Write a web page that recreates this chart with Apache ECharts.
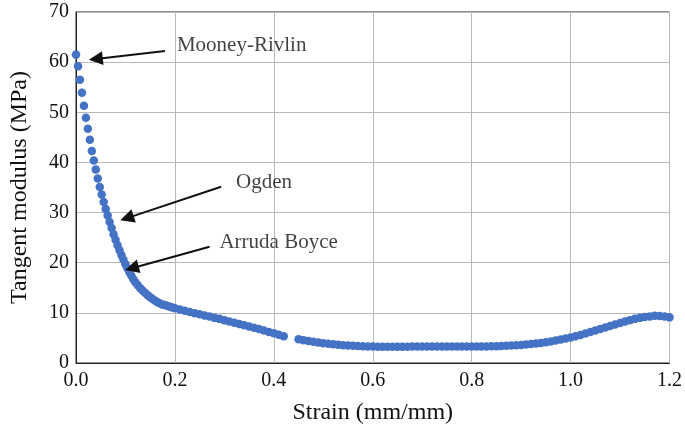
<!DOCTYPE html>
<html lang="en">
    <head>
        <meta charset="utf-8">
        <title>Tangent modulus</title>
        <script type="text/javascript" src="https://cdn.jsdelivr.net/npm/echarts@6/dist/echarts.min.js"></script>
        <style>
            html, body { margin: 0; padding: 0; background: #fff; }
            #chart { width: 685px; height: 430px; }
        </style>
    </head>
    <body>
        <div id="chart"></div>
        <script>
            // strain values (mm/mm)
            var strain = [
                0, 0.004, 0.008, 0.012, 0.016, 0.02, 0.024, 0.028, 0.032, 0.036,
                0.04, 0.044, 0.048, 0.052, 0.056, 0.06, 0.064, 0.068, 0.072, 0.076,
                0.08, 0.084, 0.088, 0.092, 0.096, 0.1, 0.104, 0.108, 0.112, 0.116, 0.12,
                0.125, 0.13, 0.135, 0.14, 0.145, 0.15, 0.155, 0.16, 0.165, 0.17,
                0.175, 0.18, 0.185, 0.19, 0.195, 0.2,
                0.21, 0.22, 0.23, 0.24, 0.25, 0.26, 0.27, 0.28, 0.29, 0.3,
                0.31, 0.32, 0.33, 0.34, 0.35, 0.36, 0.37, 0.38, 0.39, 0.4, 0.41, 0.42,
                0.45, 0.46, 0.47, 0.48, 0.49, 0.5, 0.51, 0.52, 0.53, 0.54,
                0.55, 0.56, 0.57, 0.58, 0.59, 0.6, 0.61, 0.62, 0.63, 0.64,
                0.65, 0.66, 0.67, 0.68, 0.69, 0.7, 0.71, 0.72, 0.73, 0.74,
                0.75, 0.76, 0.77, 0.78, 0.79, 0.8, 0.81, 0.82, 0.83, 0.84,
                0.85, 0.86, 0.87, 0.88, 0.89, 0.9, 0.91, 0.92, 0.93, 0.94,
                0.95, 0.96, 0.97, 0.98, 0.99, 1.0, 1.01, 1.02, 1.03, 1.04,
                1.05, 1.06, 1.07, 1.08, 1.09, 1.1, 1.11, 1.12, 1.13, 1.14,
                1.15, 1.16, 1.17, 1.18, 1.19, 1.2
            ];
            // tangent modulus (MPa)
            var modulus = [
                61.5, 59.2, 56.5, 53.9, 51.3, 48.9, 46.7, 44.5, 42.3, 40.4,
                38.6, 36.8, 35.1, 33.6, 32.1, 30.7, 29.4, 28.1, 26.9, 25.7,
                24.6, 23.5, 22.5, 21.5, 20.6, 19.7, 18.9, 18.1, 17.4, 16.7, 16.1,
                15.5, 14.9, 14.4, 13.95, 13.5, 13.1, 12.75, 12.4, 12.1, 11.85,
                11.6, 11.55, 11.35, 11.2, 11.05, 10.9,
                10.65, 10.4, 10.15, 9.9, 9.7, 9.45, 9.25, 9.0, 8.8, 8.55,
                8.3, 8.05, 7.8, 7.55, 7.3, 7.05, 6.8, 6.5, 6.2, 5.95, 5.65, 5.35,
                4.75, 4.55, 4.4, 4.25, 4.1, 3.95, 3.85, 3.75, 3.65, 3.55,
                3.5, 3.45, 3.4, 3.35, 3.3, 3.3, 3.25, 3.25, 3.25, 3.25,
                3.25, 3.25, 3.25, 3.3, 3.3, 3.3, 3.3, 3.3, 3.3, 3.3,
                3.3, 3.3, 3.3, 3.3, 3.3, 3.3, 3.3, 3.3, 3.3, 3.35,
                3.35, 3.4, 3.45, 3.5, 3.55, 3.6, 3.7, 3.8, 3.9, 4.0,
                4.15, 4.3, 4.5, 4.7, 4.9, 5.1, 5.35, 5.6, 5.9, 6.2,
                6.5, 6.8, 7.1, 7.4, 7.7, 8.0, 8.3, 8.55, 8.8, 9.0,
                9.15, 9.25, 9.4, 9.35, 9.25, 9.1
            ];
            var xTicks = [0, 0.2, 0.4, 0.6, 0.8, 1.0, 1.2];
            var yTicks = [0, 10, 20, 30, 40, 50, 60, 70];

            // annotations: label text, label position, arrow tail, arrow tip (data coords)
            var noteNames = ['Mooney-Rivlin', 'Ogden', 'Arruda Boyce'];
            var noteText = [[0.204, 63.3], [0.3235, 36.0], [0.29, 24.0]];
            var noteTail = [[0.18, 62.2], [0.2935, 35.15], [0.27, 23.2]];
            var noteTip = [[0.04, 60.65], [0.103, 28.9], [0.113, 18.9]];

            var points = strain.map(function (s, i) { return [s, modulus[i]]; });
            var labels = noteNames.map(function (n, i) { return [noteText[i][0], noteText[i][1], n]; });
            var arrows = noteNames.map(function (n, i) {
                return [{ coord: noteTail[i] }, { coord: noteTip[i] }];
            });

            var font = 'Liberation Serif';
            var myChart = echarts.init(document.getElementById('chart'));
            var option = {
                backgroundColor: '#fff',
                animation: false,
                grid: {
                    left: 70, right: 14, top: 12, bottom: 67,
                    show: true, borderColor: '#222', borderWidth: 1
                },
                xAxis: {
                    type: 'value',
                    min: xTicks[0], max: xTicks[xTicks.length - 1], interval: 0.2,
                    name: 'Strain (mm/mm)',
                    nameLocation: 'middle', nameGap: 38,
                    nameTextStyle: { fontFamily: font, fontSize: 24, color: '#111' },
                    axisLine: { lineStyle: { color: '#222', width: 1 } },
                    axisTick: { show: false },
                    axisLabel: {
                        margin: 8, fontFamily: font, fontSize: 20, color: '#111',
                        formatter: function (v) { return v.toFixed(1); }
                    },
                    splitLine: { lineStyle: { color: '#b8b8b8', width: 1 } }
                },
                yAxis: {
                    type: 'value',
                    min: yTicks[0], max: yTicks[yTicks.length - 1], interval: 10,
                    name: 'Tangent modulus (MPa)',
                    nameLocation: 'middle', nameGap: 44,
                    nameTextStyle: { fontFamily: font, fontSize: 24, color: '#111' },
                    axisLine: { show: true, lineStyle: { color: '#222', width: 1 } },
                    axisTick: { show: false },
                    axisLabel: { margin: 7, fontFamily: font, fontSize: 20, color: '#111' },
                    splitLine: { lineStyle: { color: '#b8b8b8', width: 1 } }
                },
                series: [
                    {
                        type: 'scatter',
                        data: points,
                        symbol: 'circle',
                        symbolSize: 8.5,
                        clip: false,
                        itemStyle: { color: '#4472c4', opacity: 1 },
                        z: 3
                    },
                    {
                        // arrow annotations
                        type: 'scatter',
                        data: labels,
                        symbolSize: 0,
                        silent: true,
                        label: {
                            show: true, position: 'right', distance: 0,
                            fontFamily: font, fontSize: 21, color: '#111',
                            formatter: function (p) { return p.value[2]; }
                        },
                        markLine: {
                            silent: true,
                            symbol: ['none', 'triangle'],
                            symbolSize: 14,
                            lineStyle: { color: '#111', width: 2, type: 'solid' },
                            itemStyle: { color: '#111' },
                            label: { show: false },
                            data: arrows
                        },
                        z: 4
                    }
                ]
            };
            myChart.setOption(option);
        </script>
    </body>
</html>
